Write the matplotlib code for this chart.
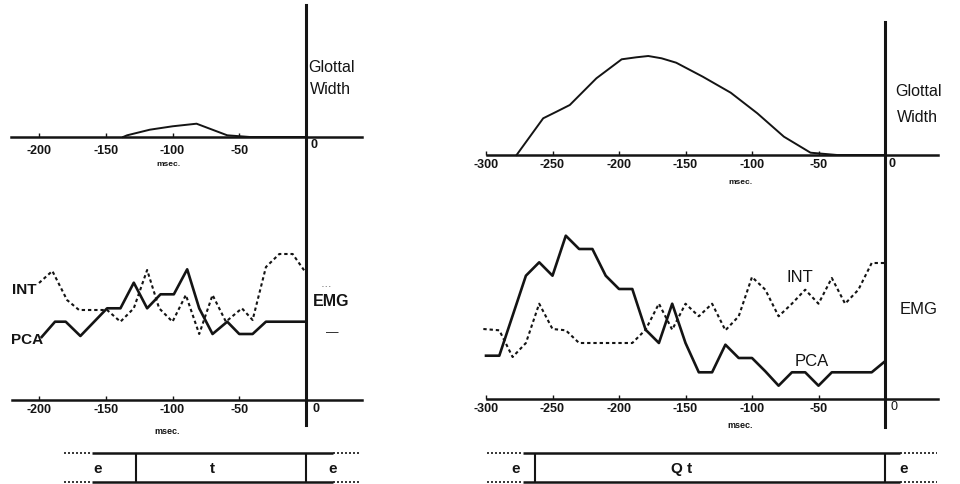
import matplotlib
matplotlib.use("Agg")
import matplotlib.pyplot as plt

plt.rcParams["font.family"] = ["Liberation Sans", "DejaVu Sans"]

# ---- data (ms before voice onset; amplitudes in arbitrary units) ----
left_glottal_ms = [-137, -134, -117, -100, -82, -59, -49, -42, 0]
left_glottal = [0, 1.7, 7.3, 10.7, 13.3, 1.7, 0.7, 0, 0]

right_glottal_ms = [-277, -257, -247, -237, -217, -198, -187, -178, -168, -157,
                    -137, -116, -96, -76, -56, -36, 0]
right_glottal = [0, 36.7, 43.3, 50, 76.7, 95.7, 97.7, 99, 96.7, 92.3,
                 78.3, 62.3, 41.7, 18.3, 2.3, 0, 0]

left_pca_ms = [-198, -188, -180, -169, -149, -139, -129, -119, -109, -99, -89,
               -80, -70, -59, -50, -40, -30, 0]
left_pca = [63, 78.3, 78.3, 64, 91.7, 91.7, 117.3, 91.7, 105.7, 105.7, 130.7,
            91.7, 66, 78.3, 66, 66, 78.3, 78.3]

left_int_ms = [-200, -190, -179, -170, -160, -149, -139, -129, -119, -110, -100,
               -90, -80, -70, -60, -48, -40, -30, -20, -10, 0]
left_int = [117, 129, 100, 90, 90, 90, 78.3, 91.7, 130, 91.7, 78.3,
            105, 66, 105, 78.3, 91.7, 80, 133, 146, 146, 127]

right_pca_ms = [-300, -290, -270, -260, -250, -240, -230, -220, -210, -200, -190,
                -180, -170, -160, -150, -140, -130, -120, -110, -100, -90, -80,
                -70, -60, -50, -40, -30, -10, 0]
right_pca = [43.3, 43.3, 123.3, 136.7, 123.3, 163.3, 150, 150, 123.3, 110, 110,
             69.3, 56, 95.3, 56, 26.7, 26.7, 54.3, 41, 41, 27.7, 13.3,
             26.7, 26.7, 13.3, 26.7, 26.7, 26.7, 37.7]

right_int_ms = [-302, -290, -280, -270, -260, -250, -240, -230, -220, -210, -200,
                -190, -180, -170, -160, -150, -140, -130, -120, -110, -100, -90,
                -80, -70, -60, -50, -40, -30, -20, -10, 0]
right_int = [70, 68.7, 42, 56, 95.3, 70, 68.7, 56, 56, 56, 56,
             56, 69.3, 95.3, 69.3, 95.3, 82.7, 95.3, 68.7, 82.7, 122, 109.3,
             82.7, 95.3, 109.3, 95.3, 121, 95.3, 109.3, 136, 136]

left_ticks = [-200, -150, -100, -50]
right_ticks = [-300, -250, -200, -150, -100, -50]

left_phases = ["e", "t", "e"]
left_phase_edges = [-127, 0]
right_phases = ["e", "Q t", "e"]
right_phase_edges = [-263, 0]

# ---- layout ----
W, H = 960, 484
INK = "#141414"
fig = plt.figure(figsize=(W / 100, H / 100), dpi=100)


def px_axes(x0, y0, x1, y1):
    ax = fig.add_axes([x0 / W, 1 - y1 / H, (x1 - x0) / W, (y1 - y0) / H])
    ax.patch.set_visible(False)
    return ax


def style_axis(ax, xlim, ylim, bounds, ticks, pad):
    ax.set_xlim(*xlim)
    ax.set_ylim(*ylim)
    for s in ("top", "right", "left"):
        ax.spines[s].set_visible(False)
    sp = ax.spines["bottom"]
    sp.set_position(("data", 0))
    sp.set_bounds(*bounds)
    sp.set_linewidth(1.8)
    sp.set_color(INK)
    ax.set_yticks([])
    ax.set_xticks(ticks)
    ax.set_xticklabels([str(t) for t in ticks], fontsize=9, fontweight="bold", color=INK)
    ax.tick_params(axis="x", direction="in", length=3, width=1, pad=pad, colors=INK)


def phase_bar(ax, xlim, labels, edges, solid, dotted_l, dotted_r, label_x):
    ax.set_xlim(*xlim)
    ax.set_ylim(0, 1)
    ax.axis("off")
    for y in (0, 1):
        ax.hlines(y, *solid, color=INK, lw=1.8, clip_on=False)
        ax.hlines(y, *dotted_l, color=INK, lw=1.2, linestyles=(0, (1.2, 1.2)), clip_on=False)
        ax.hlines(y, *dotted_r, color=INK, lw=1.2, linestyles=(0, (1.2, 1.2)), clip_on=False)
    ax.vlines(edges, 0, 1, color=INK, lw=1.5)
    for lab, x in zip(labels, label_x):
        ax.text(x, 0.45, lab, ha="center", va="center", fontsize=11, fontweight="bold", color=INK)


def ms_lim(px0, px1, origin, scale):
    return ((px0 - origin) / scale, (px1 - origin) / scale)


# left side: 0 ms at x=306 px, 1.335 px per ms
L_lim = ms_lim(0, 380, 306, 1.335)
# right side: 0 ms at x=885 px, 1.33 px per ms
R_lim = ms_lim(470, 960, 885, 1.33)

# glottal width panels
axg_l = px_axes(0, 0, 380, 180)
style_axis(axg_l, L_lim, (-43, 137), (-221, 42), left_ticks, 6)
axg_l.plot(left_glottal_ms, left_glottal, color=INK, lw=1.4)
axg_l.text(3, -2, "0", fontsize=9, fontweight="bold", ha="left", va="top", color=INK)
axg_l.text(-103, -27, "msec.", fontsize=6, fontweight="bold", ha="center", va="center", color=INK)
axg_l.text(2, 70, "Glottal", fontsize=11.5, ha="left", va="center", color=INK)
axg_l.text(3, 47, "Width", fontsize=11.5, ha="left", va="center", color=INK)

axg_r = px_axes(470, 0, 960, 190)
style_axis(axg_r, R_lim, (-35, 155), (-299, 40), right_ticks, 3)
axg_r.plot(right_glottal_ms, right_glottal, color=INK, lw=1.4)
axg_r.text(3, -3, "0", fontsize=9, fontweight="bold", ha="left", va="top", color=INK)
axg_r.text(-109, -28, "msec.", fontsize=6, fontweight="bold", ha="center", va="center", color=INK)
axg_r.text(8, 64, "Glottal", fontsize=11.5, ha="left", va="center", color=INK)
axg_r.text(9, 37, "Width", fontsize=11.5, ha="left", va="center", color=INK)

# EMG panels
axe_l = px_axes(0, 180, 380, 440)
style_axis(axe_l, L_lim, (-40, 220), (-220, 42), left_ticks, 3)
axe_l.plot(left_int_ms, left_int, color=INK, lw=1.5, ls=(0, (1.6, 1.4)))
axe_l.plot(left_pca_ms, left_pca, color=INK, lw=1.9)
axe_l.text(5, -3, "0", fontsize=9, fontweight="bold", ha="left", va="top", color=INK)
axe_l.text(-104, -31, "msec.", fontsize=6.5, fontweight="bold", ha="center", va="center", color=INK)
axe_l.text(-211, 110, "INT", fontsize=11, fontweight="bold", ha="center", va="center", color=INK)
axe_l.text(-209, 60, "PCA", fontsize=11, fontweight="bold", ha="center", va="center", color=INK)
axe_l.text(5, 98, "EMG", fontsize=11.5, fontweight="bold", ha="left", va="center", color=INK)
axe_l.text(12, 114, "- - -", fontsize=4, ha="left", va="center", color=INK)
axe_l.text(20, 67, "\u2014", fontsize=9, ha="center", va="center", color=INK)

axe_r = px_axes(470, 180, 960, 440)
style_axis(axe_r, R_lim, (-41, 219), (-299, 40), right_ticks, 3)
axe_r.plot(right_int_ms, right_int, color=INK, lw=1.5, ls=(0, (1.6, 1.4)))
axe_r.plot(right_pca_ms, right_pca, color=INK, lw=1.9)
axe_r.text(4, -2, "0", fontsize=9, ha="left", va="top", color=INK)
axe_r.text(-109, -26, "msec.", fontsize=6.5, fontweight="bold", ha="center", va="center", color=INK)
axe_r.text(-64, 121, "INT", fontsize=12, ha="center", va="center", color=INK)
axe_r.text(-55, 37, "PCA", fontsize=12, ha="center", va="center", color=INK)
axe_r.text(25, 89, "EMG", fontsize=12, ha="center", va="center", color=INK)

# vertical time-zero lines running through both panels
axv_l = px_axes(0, 0, 380, H)
axv_l.set_xlim(*L_lim)
axv_l.axis("off")
axv_l.axvline(0, ymin=1 - 425 / H, ymax=1 - 5 / H, color=INK, lw=2.2)

axv_r = px_axes(470, 0, 960, H)
axv_r.set_xlim(*R_lim)
axv_r.axis("off")
axv_r.axvline(0, ymin=1 - 427 / H, ymax=1 - 22 / H, color=INK, lw=2.2)

# phase bars
axb_l = px_axes(0, 453, 380, 482)
phase_bar(axb_l, L_lim, left_phases, left_phase_edges,
          (-160, 20), (-181, -160), (20, 41), [-156, -70, 20])

axb_r = px_axes(470, 453, 960, 482)
phase_bar(axb_r, R_lim, right_phases, right_phase_edges,
          (-272, 11), (-299, -272), (11, 39), [-278, -153, 14])

fig.savefig("out.png", dpi=100)
